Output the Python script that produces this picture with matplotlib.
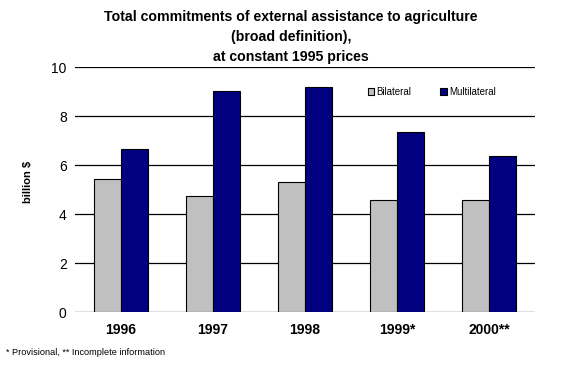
import matplotlib.pyplot as plt
import numpy as np

plt.rcParams['font.family'] = ['Liberation Sans', 'DejaVu Sans']

years = ['1996', '1997', '1998', '1999*', '2000**']
bilateral = [5.45, 4.75, 5.3, 4.6, 4.6]
multilateral = [6.65, 9.05, 9.2, 7.35, 6.4]

fig = plt.figure(figsize=(5.79, 3.67), dpi=100)
ax = fig.add_axes([0.1295, 0.149, 0.7945, 0.6675])

x = np.arange(len(years))
w = 0.29
ax.bar(x - w / 2, bilateral, w, color='#c0c0c0', edgecolor='black', linewidth=0.8,
       label='Bilateral', zorder=3)
ax.bar(x + w / 2, multilateral, w, color='#000080', edgecolor='black', linewidth=0.8,
       label='Multilateral', zorder=3)

ax.set_xlim(-0.5, 4.5)
ax.set_ylim(0, 10)
ax.set_yticks(range(0, 11, 2))
ax.yaxis.grid(True, color='black', linewidth=0.9, zorder=0)
for s in ax.spines.values():
    s.set_visible(False)
ax.tick_params(axis='both', length=0)
ax.tick_params(axis='y', labelsize=10, pad=6)
ax.set_xticks(x)
ax.set_xticklabels(years, fontsize=10, fontweight='bold')
ax.tick_params(axis='x', pad=8)
ax.set_ylabel('billion $', fontsize=8, fontweight='bold')
ax.yaxis.set_label_coords(-0.091, 0.532)

fig.text(0.503, 0.972, 'Total commitments of external assistance to agriculture\n'
         '(broad definition),\nat constant 1995 prices',
         ha='center', va='top', fontsize=10.2, fontweight='bold', linespacing=1.55)

ax.legend(loc='center right', bbox_to_anchor=(0.915, 0.899), ncol=2, frameon=False,
          fontsize=7, handlelength=0.7, handleheight=0.7, columnspacing=3,
          handletextpad=0.2, borderpad=0, borderaxespad=0)

fig.text(0.01, 0.032, '* Provisional, ** Incomplete information', fontsize=6.6)

fig.savefig('out.png', dpi=100)
